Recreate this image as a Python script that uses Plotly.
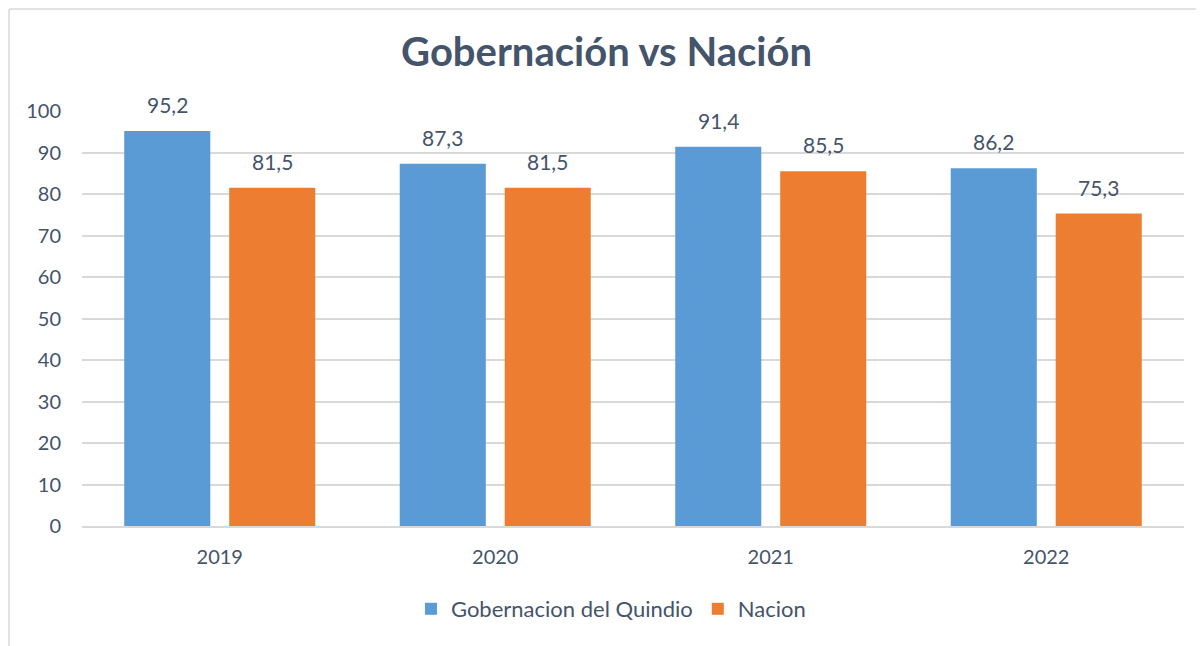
import plotly.graph_objects as go

years = ["2019", "2020", "2021", "2022"]
gobernacion = [95.2, 87.3, 91.4, 86.2]
nacion = [81.5, 81.5, 85.5, 75.3]
series_names = ["Gobernacion del Quindio", "Nacion"]
title_text = "Gobernación vs Nación"

FONT = "Lato, Open Sans, sans-serif"
TXT = "#44546A"
GRID = "#D9D9D9"

def fmt(v):
    return f"{v:.1f}".replace(".", ",")

fig = go.Figure()
fig.add_trace(go.Bar(
    x=years, y=gobernacion, name=series_names[0],
    marker=dict(color="#5B9BD5", line=dict(width=0)),
))
fig.add_trace(go.Bar(
    x=years, y=nacion, name=series_names[1],
    marker=dict(color="#ED7D31", line=dict(width=0)),
))

annotations = []
for vals, shift in ((gobernacion, -52.5), (nacion, 52.5)):
    for i, v in enumerate(vals):
        annotations.append(dict(
            x=i, y=v, xref="x", yref="y", text=fmt(v), showarrow=False,
            xshift=shift, yshift=12, yanchor="bottom", xanchor="center",
            font=dict(size=21, color=TXT, family=FONT),
        ))

fig.update_layout(
    width=1196, height=638,
    paper_bgcolor="white", plot_bgcolor="white",
    margin=dict(l=74, r=20, t=103, b=120),
    title=dict(text=f"<b>{title_text}</b>", x=0.476, xanchor="center",
               xref="paper", y=0.931, yanchor="middle",
               font=dict(size=40, color=TXT, family=FONT)),
    barmode="group", bargap=0.238, bargroupgap=0.18,
    font=dict(family=FONT, color=TXT, size=20),
    legend=dict(orientation="h", x=0.48, xanchor="center", y=-0.2, yanchor="middle",
                font=dict(size=22, color=TXT, family=FONT), itemwidth=30,
                traceorder="normal"),
    xaxis=dict(type="category", range=[-0.5, len(years) - 0.5],
               showline=True, linecolor=GRID, linewidth=1.5,
               tickfont=dict(size=20, color=TXT), ticks="", ticklabelstandoff=12),
    yaxis=dict(range=[0, 100], dtick=10, showgrid=True, gridcolor=GRID,
               gridwidth=1.5, zeroline=False, tickfont=dict(size=20, color=TXT),
               ticks="", ticklabelstandoff=20),
    annotations=annotations,
    shapes=[
        dict(type="line", xref="paper", yref="paper", x0=-0.0662, x1=1.05,
             y0=1.2458, y1=1.2458, line=dict(color=GRID, width=1.5)),
        dict(type="line", xref="paper", yref="paper", x0=-0.0662, x1=-0.0662,
             y0=1.2458, y1=-0.32, line=dict(color=GRID, width=1.5)),
    ],
)

fig.write_html("out.html")
